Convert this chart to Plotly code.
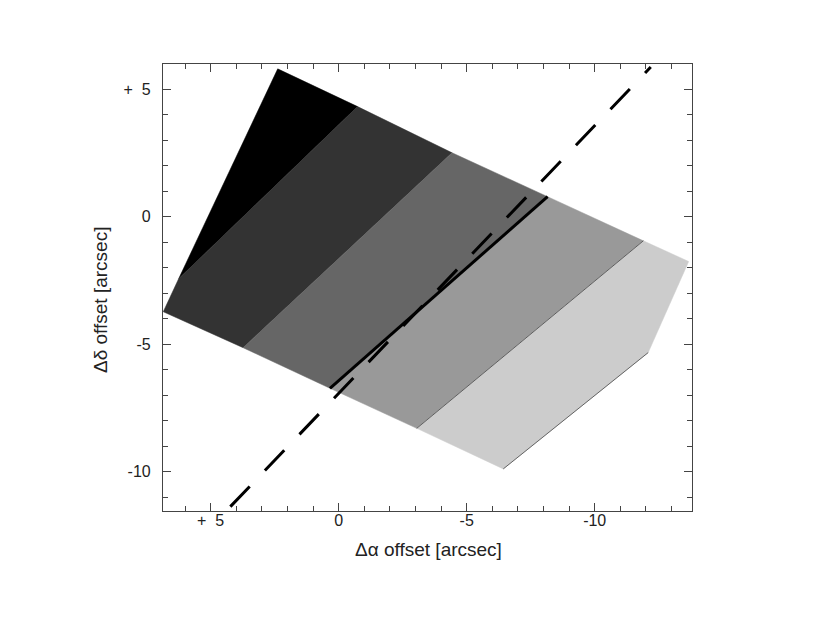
import plotly.graph_objects as go

# Stripe polygons (data coords: dalpha, ddelta)
black_x = [2.38, -0.74, 6.25]
black_y = [5.79, 4.31, -2.44]
dark_x = [6.25, -0.74, -4.43, 3.73, 6.85]
dark_y = [-2.44, 4.31, 2.50, -5.14, -3.73]
mid_x = [3.73, -4.43, -8.16, 0.34]
mid_y = [-5.14, 2.50, 0.78, -6.73]
light_x = [0.34, -8.16, -11.90, -3.05]
light_y = [-6.73, 0.78, -0.95, -8.30]
lightest_x = [-3.05, -11.90, -13.67, -12.09, -6.43]
lightest_y = [-8.30, -0.95, -1.76, -5.33, -9.89]

stripe_colors = ["#000000", "#333333", "#666666", "#999999", "#cccccc"]

solid_x = [0.34, -8.16]
solid_y = [-6.73, 0.78]
dash_x = [4.23, -12.19]
dash_y = [-11.37, 5.86]

xtick_vals = [5, 0, -5, -10]
xtick_text = ["+  5", "0", "-5", "-10"]
ytick_vals = [5, 0, -5, -10]
ytick_text = ["+  5", "0", "-5", "-10"]

x_title = "Δα offset [arcsec]"
y_title = "Δδ offset [arcsec]"

fig = go.Figure()
polys = [(black_x, black_y), (dark_x, dark_y), (mid_x, mid_y),
         (light_x, light_y), (lightest_x, lightest_y)]
for (px, py), c in zip(polys, stripe_colors):
    fig.add_trace(go.Scatter(x=px + [px[0]], y=py + [py[0]], mode="lines",
                             fill="toself", fillcolor=c,
                             line=dict(color=c, width=0.5),
                             hoverinfo="skip", showlegend=False))

# thin edges around lightest stripes
fig.add_trace(go.Scatter(x=[-11.90, -3.05], y=[-0.95, -8.30], mode="lines",
                         line=dict(color="#444444", width=0.8), showlegend=False))
fig.add_trace(go.Scatter(x=[-12.09, -6.43], y=[-5.33, -9.89], mode="lines",
                         line=dict(color="#444444", width=0.8), showlegend=False))

fig.add_trace(go.Scatter(x=solid_x, y=solid_y, mode="lines",
                         line=dict(color="black", width=3), showlegend=False))
fig.add_trace(go.Scatter(x=dash_x, y=dash_y, mode="lines",
                         line=dict(color="black", width=3, dash="28px,22px"),
                         showlegend=False))

axis_common = dict(showline=True, linecolor="#444444", linewidth=1.2, mirror="allticks",
                   ticks="inside", ticklen=8, tickcolor="#444444", tickwidth=1.2,
                   showgrid=False, zeroline=False,
                   tickfont=dict(family="Liberation Sans, Arial", size=16, color="#222222"),
                   minor=dict(ticks="inside", ticklen=5, tickcolor="#444444", tickwidth=1.2, dtick=1))

fig.update_xaxes(range=[6.86, -13.8], tickvals=xtick_vals, ticktext=xtick_text,
                 ticklabelstandoff=-5, **axis_common)
fig.update_yaxes(range=[-11.54, 5.98], tickvals=ytick_vals, ticktext=ytick_text,
                 ticklabelstandoff=8, **axis_common)

title_font = dict(family="Liberation Sans, Arial", size=19, color="#222222")
fig.add_annotation(text=x_title, xref="paper", yref="paper", x=0.501, y=-0.087,
                   xanchor="center", yanchor="middle", showarrow=False, font=title_font)
fig.add_annotation(text=y_title, xref="paper", yref="paper", x=-0.119, y=0.472,
                   xanchor="center", yanchor="middle", showarrow=False, textangle=-90,
                   font=title_font)

fig.update_layout(width=830, height=623, plot_bgcolor="white", paper_bgcolor="white",
                  margin=dict(l=155, r=146, t=56, b=120), showlegend=False)

fig.write_html("out.html")
